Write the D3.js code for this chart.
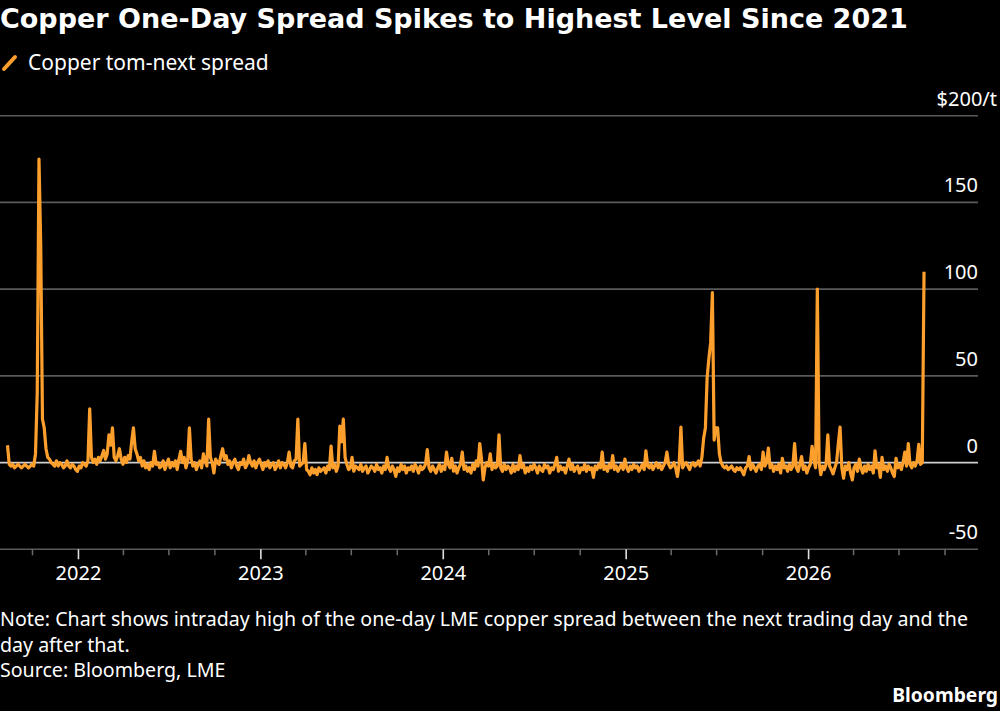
<!DOCTYPE html>
<html>
<head>
<meta charset="utf-8">
<script src="https://cdn.jsdelivr.net/npm/d3@7"></script>
<style>
  body { margin: 0; background: #000; }
  text { font-family: "Noto Sans", sans-serif; fill: #fff; }
</style>
</head>
<body>
<div id="chart"></div>
<script>
// tom-next spread ($/t), read twice a week starting from firstDay
var firstDay = "2021-08-13";
var stepHours = 84;
var spread = [
  10, -1, -2, -1, -3, -2, -1, -2, -3, -2,
  -1, -2, -3, -2, -1, -2, 5, 40, 175, 125,
  25, 20, 8, 3, 2, 0, -1, -2, 1, -2,
  0, -1, -3, -2, 1, -2, -3, -1, -2, -4,
  -5, -2, -3, 0, -1, -2, 1, 31, 3, 0,
  2, -1, 3, 1, 4, 7, 2, 5, 16, 10,
  20, 3, 1, 4, 8, 2, -1, 3, 0, 4,
  2, 12, 20, 8, 5, 1, 3, -2, 1, -3,
  -1, -4, 0, -2, 6.5, -1, 0, -3, -2, 1,
  -4, -1, 2, -3, 0, -2, 1, -4, 2, 6.5,
  0, 3, -3, 1, 20, 2, -2, 0, -4, -1,
  1, -3, 5, 1, -2, 25, 3, 0, -6, 2,
  0, -1, 4, 8, 2, 4, -1, 1, -3, 0,
  2, -2, -4, 0, -1, 2, -3, -1, 4, 0,
  -2, 1, -3, 0, 2, -1, -4, 0, -2, 1,
  -3, -1, 0, -4, -2, 1, -3, 0, -1, -3,
  0, 6, -2, -3, 1, 2, 25, -2, -1, 0,
  11, -4, -5, -7, -3, -6, -4, -7, -3, -5,
  -4, -3, -6, -2, -4, 9.5, -3, -1, -5, -2,
  21, 12, 25, 3, -1, -4, -3, 3, -5, -2,
  -3, -4, -1, -5, -3, -2, -6, -4, -2, -3,
  -5, -1, -4, -3, -6, -2, -4, 3, -3, -5,
  -2, -4, -8, -3, -5, -1, -4, -2, -6, -3,
  -4, -2, -5, -1, -3, -6, -2, -4, -3, -1,
  7.5, -3, -5, -2, -4, -6, -3, -1, -5, -2,
  -4, 6, -1, -3, 2.5, -5, -2, -6, -3, -1,
  6, -4, -2, -5, -3, -6, -1, -4, 1, -2,
  11, 2, -10, -3, 0, -2, 5, -4, -1, -3,
  -2, 16, -3, -5, -1, -4, -2, -3, -6, -1,
  -5, -2, -4, 4, -3, -1, -6, -3, -5, -2,
  -4, -1, -3, -6, -2, -4, -5, -1, -3, -2,
  -6, -3, -4, -1, 3, -5, -2, -4, -3, -6,
  -2, 2, -4, -1, -5, -3, -2, -6, -3, -4,
  -1, -5, -2, -4, -3, -8.5, -2, -4, -1, -3,
  6, -4, -2, -5, -1, -3, 4, -4, -2, -5,
  -3, -1, -4, 2, -3, -5, -2, -4, -1, -3,
  -2, -5, -3, -1, -4, 6.7, -2, -3, -1, -4,
  -2, 0, -3, -1, -4, -2, 0, 6, -1, -3,
  -2, 0, -3, -8, -1, 20.5, -3, -1, 0, -2,
  -4, -1, 0, -2, -1, 1, -2, 3, 14, 20,
  49, 60, 69, 98, 13, 20, 20, 5, 0, -2,
  -3, -2, -4, -3, -2, -4, -5, -3, -4, -3,
  -5, -7, -3, -2, 3.5, -4, -1, -3, -5, -2,
  -1, -4, 6, -2, 0, 8.4, -3, -1, -5, -2,
  -4, -1, -6, 2.5, -3, -2, -5, -1, -4, -2,
  11, -3, -5, -1, 3.5, -4, -2, -6, -3, -1,
  9.4, 2, -3, 100, 0, -7, -2, -4, -1, 16,
  -2, -4, -6.5, -3, 0, 11, 20.5, -3, -9, -2,
  -4, 0, -6, -10, -3, -1, -5, 2, -3, -6,
  -2, -5, -1, -4, -2, -6, 6.7, -3, -1, -8.5,
  3, -4, -2, -5, -1, -3, -6, -8, 2.5, -3,
  -1, -4, 0, 6, -2, 11, -1, -3, 0, -2,
  1, 10.5, -1, 0, 110
];
var yTicks = [-50, 0, 50, 100, 150, 200];
var yearLabels = ["2022", "2023", "2024", "2025", "2026"];

var svgWidth = 1000;
var svgHeight = 711;
var plotRight = 978;
var orange = "#fd9f2c";

var svg = d3.select("#chart")
  .append("svg")
  .attr("width", svgWidth)
  .attr("height", svgHeight)
  .style("background", "#000");

var parseDay = d3.timeParse("%Y-%m-%d");
var start = parseDay(firstDay);
var points = spread.map(function(v, i) {
  return { date: d3.timeHour.offset(start, stepHours * i), value: v };
});

var x = d3.scaleTime()
  .domain([parseDay("2021-07-29"), parseDay("2026-12-07")])
  .range([0, plotRight]);

var y = d3.scaleLinear()
  .domain([-50, 200])
  .range([549.3, 115.7]);

// title + legend
svg.append("text")
  .attr("x", 0)
  .attr("y", 28)
  .style("font-family", "'DejaVu Sans', sans-serif")
  .style("font-weight", "bold")
  .style("font-size", "27px")
  .text("Copper One-Day Spread Spikes to Highest Level Since 2021");

svg.append("line")
  .attr("x1", 4).attr("y1", 69)
  .attr("x2", 15).attr("y2", 57)
  .attr("stroke", orange)
  .attr("stroke-width", 4)
  .attr("stroke-linecap", "round");

svg.append("text")
  .attr("x", 28)
  .attr("y", 70)
  .style("font-size", "21px")
  .text("Copper tom-next spread");

// gridlines
svg.append("g").selectAll("line")
  .data(yTicks)
  .enter()
  .append("line")
  .attr("x1", 0)
  .attr("x2", plotRight)
  .attr("y1", d => y(d))
  .attr("y2", d => y(d))
  .attr("stroke", d => d === 0 ? "#d0d0d0" : "#5a5a5a")
  .attr("stroke-width", 1.6);

svg.append("g").selectAll("text")
  .data(yTicks)
  .enter()
  .append("text")
  .attr("x", d => d === 200 ? 997 : plotRight)
  .attr("y", d => y(d) - 10)
  .attr("text-anchor", "end")
  .style("font-size", "20px")
  .text(d => d === 200 ? "$200/t" : d);

// x axis: quarterly minor ticks, yearly major ticks
var quarters = d3.timeMonth.every(3).range(x.domain()[0], x.domain()[1])
  .filter(d => d.getMonth() !== 0);
var years = d3.timeYear.range(x.domain()[0], x.domain()[1]);

var minorAxis = svg.append("g")
  .attr("transform", `translate(0, ${y(-50)})`)
  .call(d3.axisBottom(x).tickValues(quarters).tickSize(6).tickFormat(""));
minorAxis.select(".domain").remove();
minorAxis.selectAll("line").attr("stroke", "#6a6a6a").attr("stroke-width", 1.5);

var majorAxis = svg.append("g")
  .attr("transform", `translate(0, ${y(-50)})`)
  .call(d3.axisBottom(x).tickValues(years).tickSize(10)
    .tickFormat((d, i) => yearLabels[i]));
majorAxis.select(".domain").remove();
majorAxis.selectAll("line").attr("stroke", "#e0e0e0").attr("stroke-width", 1.6);
majorAxis.selectAll("text")
  .attr("y", 31)
  .attr("dy", 0)
  .style("font-size", "20px")
  .style("font-family", "'Noto Sans', sans-serif")
  .attr("fill", "#fff");

// spread line
var line = d3.line()
  .x(d => x(d.date))
  .y(d => y(d.value));

svg.append("path")
  .datum(points)
  .attr("fill", "none")
  .attr("stroke", orange)
  .attr("stroke-width", 3.2)
  .attr("stroke-linejoin", "round")
  .attr("d", line);

// footer
var notes = [
  "Note: Chart shows intraday high of the one-day LME copper spread between the next trading day and the",
  "day after that.",
  "Source: Bloomberg, LME"
];
svg.append("g").selectAll("text")
  .data(notes)
  .enter()
  .append("text")
  .attr("x", 0)
  .attr("y", (d, i) => 626 + i * 25.5)
  .style("font-size", "19.6px")
  .text(d => d);

svg.append("text")
  .attr("x", 998)
  .attr("y", 702)
  .attr("text-anchor", "end")
  .style("font-weight", "bold")
  .style("font-size", "19.3px")
  .text("Bloomberg");
</script>
</body>
</html>
